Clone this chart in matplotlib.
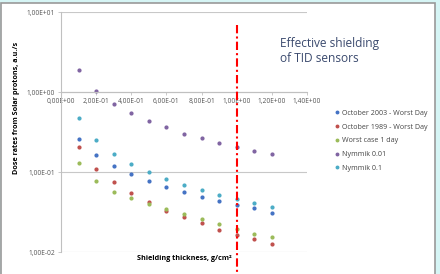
import matplotlib
matplotlib.use("Agg")
import matplotlib.pyplot as plt
from matplotlib.patches import Rectangle
from matplotlib.ticker import FixedLocator

thickness = [0.1, 0.2, 0.3, 0.4, 0.5, 0.6, 0.7, 0.8, 0.9, 1.0, 1.1, 1.2]
oct2003 = [0.258, 0.163, 0.119, 0.094, 0.077, 0.065, 0.056, 0.049, 0.043, 0.039, 0.035, 0.031]
oct1989 = [0.205, 0.109, 0.074, 0.054, 0.042, 0.033, 0.027, 0.023, 0.019, 0.0165, 0.0145, 0.0125]
worst1day = [0.13, 0.077, 0.057, 0.047, 0.040, 0.034, 0.030, 0.026, 0.0224, 0.0194, 0.017, 0.0152]
nymmik001 = [1.88, 1.03, 0.71, 0.55, 0.43, 0.365, 0.30, 0.266, 0.23, 0.205, 0.183, 0.168]
nymmik01 = [0.47, 0.25, 0.168, 0.125, 0.10, 0.082, 0.068, 0.059, 0.052, 0.046, 0.041, 0.037]
series_names = ["October 2003 - Worst Day", "October 1989 - Worst Day", "Worst case 1 day",
                "Nymmik 0.01", "Nymmik 0.1"]
colors = ["#4472C4", "#C0504D", "#9BBB59", "#8064A2", "#4BACC6"]
effective_shielding = 1.0
x_ticks = [0.0, 0.2, 0.4, 0.6, 0.8, 1.0, 1.2, 1.4]
x_tick_labels = ["0,00E+00", "2,00E-01", "4,00E-01", "6,00E-01", "8,00E-01", "1,00E+00", "1,20E+00", "1,40E+00"]
y_ticks = [0.01, 0.1, 1, 10]
y_tick_labels = ["1,00E-02", "1,00E-01", "1,00E+00", "1,00E+01"]

plt.rcParams['font.family'] = ['Open Sans', 'DejaVu Sans']

fig = plt.figure(figsize=(4.4, 2.74), dpi=100)
fig.patch.set_facecolor("#d6f5f5")
bg = Rectangle((1/440, -0.05), 434/440, 1.05 - 3/274, transform=fig.transFigure,
               facecolor="white", edgecolor="#999999", linewidth=1.2, zorder=-10)
fig.patches.append(bg)

ax = fig.add_axes([61/440, 1 - 252/274, (307 - 61)/440, 240/274])
ax.set_zorder(1)
ax.set_facecolor("none")
ax.set_yscale("log")
ax.set_xlim(0, 1.4)
ax.set_ylim(0.01, 10)

for ys, c, n in zip([oct2003, oct1989, worst1day, nymmik001, nymmik01], colors, series_names):
    ax.plot(thickness, ys, linestyle="none", marker="o", markersize=2.0, color=c, label=n)

for yv in y_ticks:
    ax.axhline(yv, color="#c8c8c8", linewidth=0.8, zorder=0)

ax.spines['top'].set_visible(False)
ax.spines['right'].set_visible(False)
ax.spines['bottom'].set_position(('data', 1))
ax.spines['bottom'].set_color("#c0c0c0")
ax.spines['left'].set_color("#c0c0c0")
ax.spines['bottom'].set_linewidth(0.8)
ax.spines['left'].set_linewidth(0.8)

ax.xaxis.set_major_locator(FixedLocator(x_ticks))
ax.set_xticklabels(x_tick_labels)
ax.yaxis.set_major_locator(FixedLocator(y_ticks))
ax.yaxis.set_minor_locator(FixedLocator([]))
ax.set_yticklabels(y_tick_labels)
ax.tick_params(axis='both', labelsize=4.8, colors="#c0c0c0", labelcolor="#555555", length=2.5, width=0.6)
ax.tick_params(axis='x', pad=2)
ax.tick_params(axis='y', pad=2)

ax.plot([effective_shielding, effective_shielding], [6.9, 0.0053], color="#ff0000",
        linestyle=(0, (4, 1.5, 1, 1.5)), linewidth=1.5, clip_on=False, zorder=5)

ax.set_ylabel("Dose rates from Solar protons, a.u./s", fontsize=5.2, fontweight="bold")
ax.yaxis.set_label_coords(-0.165, 0.6)
fig.text(184/440, 1 - 258/274, "Shielding thickness, g/cm²", fontsize=5.2, fontweight="bold",
         ha="center", va="center")

fig.text(280/440, 1 - 51/274, "Effective shielding\nof TID sensors", fontsize=8.6, color="#3b4a6e",
         ha="left", va="center", linespacing=1.3)

leg = fig.legend(loc="upper left", bbox_to_anchor=(332/440, 1 - 107/274), frameon=False,
                 fontsize=5.1, handlelength=0.6, handletextpad=0.45, labelspacing=0.95,
                 borderaxespad=0, markerscale=0.9)
for t in leg.get_texts():
    t.set_color("#444444")

fig.savefig("out.png", dpi=100, facecolor=fig.get_facecolor())
